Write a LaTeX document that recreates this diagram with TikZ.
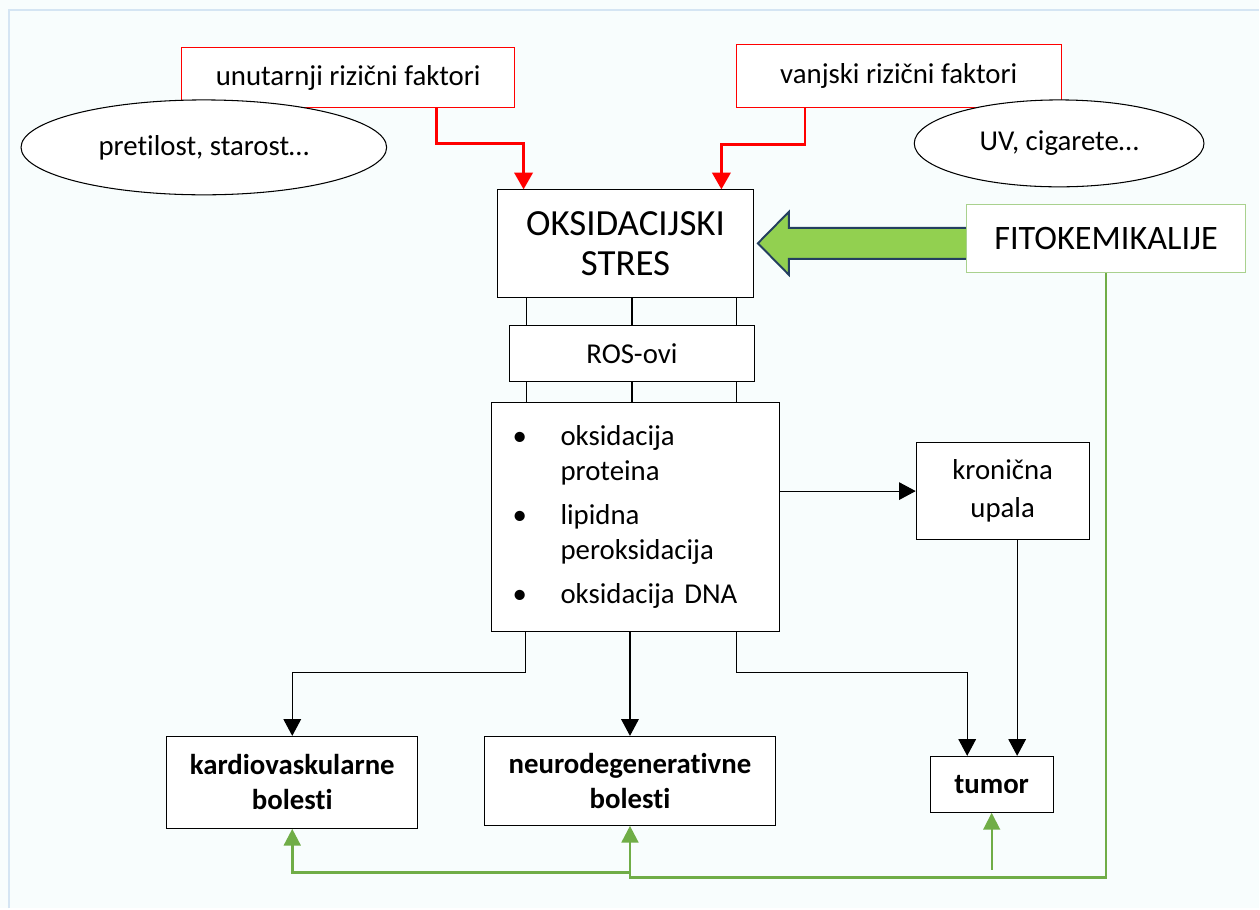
\documentclass[tikz,border=0pt]{standalone}
\usepackage{fontspec}
\setmainfont{Carlito}[Ligatures=NoCommon]
\usepackage{xcolor}
\usepackage{tikz}
\usetikzlibrary{shapes.geometric}
\usetikzlibrary{arrows.meta}
\usetikzlibrary{calc}

\definecolor{bgcol}{HTML}{F8FDFD}
\definecolor{framecol}{HTML}{D5E5F3}
\definecolor{linegreen}{HTML}{70AD47}
\definecolor{fitogreen}{HTML}{92D050}
\definecolor{fitoborder}{HTML}{A9D18E}
\definecolor{arrowedge}{HTML}{243F60}

\tikzset{
  box/.style={draw, fill=white, line width=0.6pt, inner sep=0pt, align=center,
    font=\fontsize{16.4}{20}\selectfont},
  riskbox/.style={box, draw=red},
  examplebox/.style={box, ellipse},
  bigbox/.style={box, font=\fontsize{21}{22.7}\selectfont},
  illbox/.style={box, font=\fontsize{16.4}{19.8}\bfseries\selectfont},
  arr/.style={-{Triangle[length=9.5pt,width=10pt]}, line width=0.6pt},
  redarr/.style={-{Triangle[length=9.5pt,width=10.5pt]}, red, line width=1.3pt},
  greenarr/.style={-{Triangle[length=9.5pt,width=9.5pt]}, linegreen, line width=1.5pt},
}

\begin{document}
\begin{tikzpicture}[x=0.02cm,y=-0.02cm]
    \fill[bgcol] (0,0) rectangle (1260,909);
    \draw[framecol, line width=1.2pt] (9,909) -- (9,10) -- (1260,10);
    \useasboundingbox (0,0) rectangle (1260,909);
    %
    \node[riskbox, minimum width=6.66cm, minimum height=1.2cm] (unut) at (348.5,78) {unutarnji rizični faktori};
    \node[riskbox, minimum width=6.5cm, minimum height=1.26cm] (vanj) at (899.5,76.5) {vanjski rizični faktori};
    \node[examplebox, minimum width=7.32cm, minimum height=1.9cm] (pret) at (204,147.5) {pretilost, starost…};
    \node[examplebox, minimum width=5.8cm, minimum height=1.74cm] (uv) at (1060,143.5) {UV, cigarete…};
    %
    \node[bigbox, minimum width=5.12cm, minimum height=2.16cm] (oks) at (626,244) {OKSIDACIJSKI\\STRES};
    \node[box, minimum width=4.9cm, minimum height=1.12cm] (ros) at (632.5,354) {ROS-ovi};
    \node[box, minimum width=5.76cm, minimum height=4.58cm, text width=4.92cm, inner xsep=0.42cm, align=left] (bul) at (636,517.5)
      {\begin{tabular}{@{}p{0.96cm}@{}l@{}}
        \textbullet & oksidacija\\ & proteina\\[5pt]
        \textbullet & lipidna\\ & peroksidacija\\[5pt]
        \textbullet & oksidacija DNA
      \end{tabular}};
    \node[box, minimum width=3.46cm, minimum height=1.94cm, font=\fontsize{16.4}{21.5}\selectfont] (kron) at (1003.5,491.5) {kronična\\upala};
    %
    \node[illbox, minimum width=5.02cm, minimum height=1.84cm] (kard) at (292.5,783) {kardiovaskularne\\bolesti};
    \node[illbox, minimum width=5.82cm, minimum height=1.78cm] (neu) at (630.5,781.5) {neurodegenerativne\\bolesti};
    \node[illbox, minimum width=2.46cm, minimum height=1.12cm] (tum) at (992.5,785) {tumor};
    %
    \draw[fill=fitogreen, draw=arrowedge, line width=1.1pt, line join=miter]
      ($(oks.east)+(214,-16)$) -- ++(-179,0) -- ++(0,-16) -- ++(-31,31.5)
      -- ++(31,31.5) -- ++(0,-16) -- ++(179,0) -- cycle;
    \node[box, draw=fitoborder, minimum width=5.6cm, minimum height=1.36cm, font=\fontsize{19.5}{22}\selectfont] (fito) at (1107,239) {FITOKEMIKALIJE};
    %
    \draw[redarr] ($(unut.south)+(88.5,0)$) -- ++(0,35) -| ($(oks.north)+(-102,0)$);
    \draw[redarr] ($(vanj.south)+(-93.5,0)$) -- ++(0,36) -| ($(oks.north)+(96,0)$);
    %
    \foreach \dx in {-106,0,105} {
      \draw[line width=0.6pt] ($(ros.north)+(\dx,0)$) coordinate (t) -- (t |- oks.south);
      \draw[line width=0.6pt] ($(ros.south)+(\dx,0)$) coordinate (t) -- (t |- bul.north);
    }
    %
    \draw[arr] (kron.west -| bul.east) -- (kron.west);
    \draw[arr] ($(bul.south)+(-110,0)$) -- ++(0,41) -| (kard.north);
    \draw[arr] (neu.north |- bul.south) -- (neu.north);
    \draw[arr] ($(bul.south)+(101,0)$) -- ++(0,41) -| ($(tum.north)+(-24.5,0)$);
    \draw[arr] ($(kron.south)+(14.5,0)$) coordinate (t) -- (t |- tum.north);
    %
    \draw[greenarr] (fito.south) -- ++(0,605) -| (neu.south);
    \draw[greenarr] ($(neu.south)+(0,47)$) -| (kard.south);
    \draw[greenarr, line width=1.1pt] ($(tum.south)+(0,57)$) -- (tum.south);
\end{tikzpicture}
\end{document}
